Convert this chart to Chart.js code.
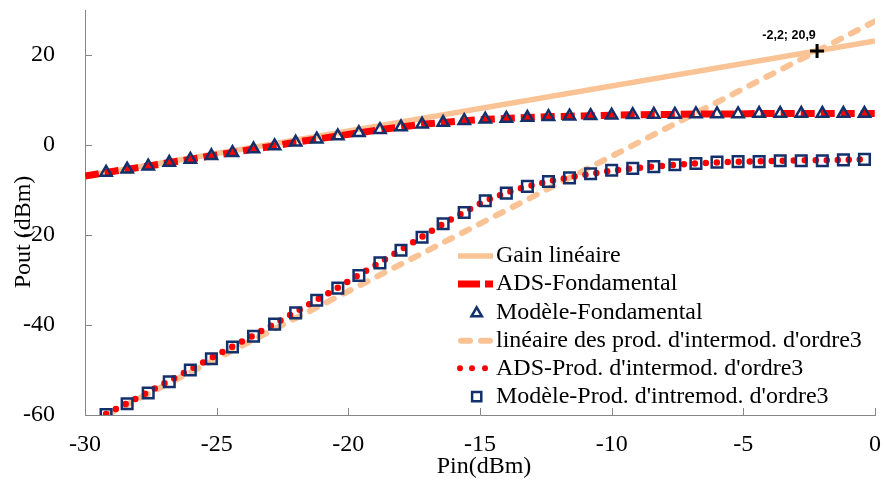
<!DOCTYPE html>
<html><head><meta charset="utf-8">
<script src="https://cdn.jsdelivr.net/npm/chart.js@4.4.1/dist/chart.umd.min.js"></script>
<style>html,body{margin:0;padding:0;background:#fff;}#wrap{width:885px;height:481px;}</style>
</head><body><div id="wrap"><canvas id="c" width="885" height="481"></canvas></div>
<script>
// ---- data ----
const pin = [-29.2,-28.4,-27.6,-26.8,-26,-25.2,-24.4,-23.6,-22.8,-22,-21.2,-20.4,-19.6,-18.8,-18,-17.2,-16.4,-15.6,-14.8,-14,-13.2,-12.4,-11.6,-10.8,-10,-9.2,-8.4,-7.6,-6.8,-6,-5.2,-4.4,-3.6,-2.8,-2,-1.2,-0.4];
const modeleFond = [-6.1,-5.4,-4.7,-3.9,-3.2,-2.4,-1.7,-0.9,-0.2,0.6,1.3,2.0,2.7,3.4,4.0,4.6,5.0,5.4,5.7,5.9,6.1,6.3,6.4,6.5,6.6,6.7,6.8,6.8,6.9,6.9,6.9,7.0,7.0,7.0,7.0,7.0,7.0];
const modeleIM3 = [-59.9,-57.5,-55.1,-52.6,-50.0,-47.5,-44.9,-42.5,-39.8,-37.3,-34.5,-31.8,-29.0,-26.2,-23.4,-20.5,-17.5,-15.0,-12.4,-10.7,-9.2,-8.1,-7.3,-6.4,-5.6,-5.2,-4.8,-4.4,-4.1,-3.8,-3.7,-3.7,-3.5,-3.5,-3.5,-3.3,-3.2];
const adsFondPin = [-30,-29.2,-28.4,-27.6,-26.8,-26,-25.2,-24.4,-23.6,-22.8,-22,-21.2,-20.4,-19.6,-18.8,-18,-17.2,-16.4,-15.6,-14.8,-14,-13.2,-12.4,-11.6,-10.8,-10,-9.2,-8.4,-7.6,-6.8,-6,-5.2,-4.4,-3.6,-2.8,-2,-1.2,-0.4,0];
const adsFond = [-6.9,-6.1,-5.4,-4.7,-3.9,-3.2,-2.4,-1.7,-0.9,-0.2,0.6,1.3,2.0,2.7,3.4,4.0,4.6,5.0,5.4,5.7,5.9,6.1,6.3,6.4,6.5,6.6,6.7,6.8,6.8,6.9,6.9,6.9,7.0,7.0,7.0,7.0,7.0,7.0,7.0];
const adsIM3 = [-59.8,-57.4,-54.9,-52.4,-49.9,-47.3,-44.8,-42.3,-39.7,-37.1,-34.4,-31.7,-28.9,-26.1,-23.3,-20.4,-17.5,-14.9,-12.4,-10.6,-9.2,-8.1,-7.2,-6.4,-5.7,-5.2,-4.8,-4.4,-4.1,-3.9,-3.7,-3.6,-3.5,-3.4,-3.4,-3.3,-3.2];
const gainLinPin = [-30, 0];
const gainLin = [-6.9, 23.1];
const im3LinPin = [-29.17, 0];
const im3Lin = [-60, 27.5];
const ip3Pin = [-2.2];
const ip3Pout = [20.9];
const ip3Label = "-2,2; 20,9";
const xTicks = [-30,-25,-20,-15,-10,-5,0];
const yTicks = [-60,-40,-20,0,20];
const legendLabels = ["Gain linéaire","ADS-Fondamental","Modèle-Fondamental","linéaire des prod. d'intermod. d'ordre3","ADS-Prod. d'intermod. d'ordre3","Modèle-Prod. d'intremod. d'ordre3"];
const xTitle = "Pin(dBm)";
const yTitle = "Pout (dBm)";

// ---- styles ----
const NAVY = '#13306B', RED = '#FF0000', PEACH = '#F9C396', AXIS = '#868686';
const SERIF = "'Liberation Serif','Times New Roman',serif";
const pts = (xs, ys) => xs.map((x, i) => ({x, y: ys[i]}));
const CLEAR = 'rgba(0,0,0,0)';

const decor = {
  id: 'decor',
  beforeDatasetsDraw(chart) {
    const ctx = chart.ctx, xs = chart.scales.x, ys = chart.scales.y, ca = chart.chartArea;
    ctx.save();
    ctx.strokeStyle = AXIS; ctx.lineWidth = 1;
    yTicks.forEach(v => { const p = Math.round(ys.getPixelForValue(v)) + 0.5; ctx.beginPath(); ctx.moveTo(ca.left, p); ctx.lineTo(ca.left + 7, p); ctx.stroke(); });
    xTicks.forEach(v => { const p = Math.round(xs.getPixelForValue(v)) + 0.5; ctx.beginPath(); ctx.moveTo(p, ca.bottom); ctx.lineTo(p, ca.bottom - 7); ctx.stroke(); });
    ctx.restore();
  },
  afterDraw(chart) {
    const ctx = chart.ctx, xs = chart.scales.x, ys = chart.scales.y;
    ctx.save();
    ctx.fillStyle = '#000';
    ctx.font = '24px ' + SERIF;
    ctx.textAlign = 'center'; ctx.textBaseline = 'middle';
    ctx.fillText(xTitle, 484, 467);
    ctx.save();
    ctx.translate(30, 232); ctx.rotate(-Math.PI / 2);
    ctx.textBaseline = 'alphabetic';
    ctx.fillText(yTitle, 0, 0);
    ctx.restore();
    // IP3 label
    const px = xs.getPixelForValue(ip3Pin[0]), py = ys.getPixelForValue(ip3Pout[0]);
    ctx.font = 'bold 12.5px "Liberation Sans", Arial, sans-serif';
    ctx.textAlign = 'center'; ctx.textBaseline = 'middle';
    ctx.fillText(ip3Label, px - 28, py - 15);
    // legend
    const rows = [256, 284, 312.3, 340.7, 368.3, 396.7];
    const x0 = 458, x1 = 493, tx = 496;
    ctx.font = '24px ' + SERIF; ctx.textAlign = 'left'; ctx.textBaseline = 'middle';
    rows.forEach((y, i) => { ctx.fillStyle = '#000'; ctx.fillText(legendLabels[i], tx, y); });
    ctx.lineCap = 'butt';
    ctx.strokeStyle = PEACH; ctx.lineWidth = 5.5; ctx.setLineDash([]);
    ctx.beginPath(); ctx.moveTo(x0, rows[0]); ctx.lineTo(x1, rows[0]); ctx.stroke();
    ctx.strokeStyle = RED; ctx.lineWidth = 7; ctx.setLineDash([22, 5]);
    ctx.beginPath(); ctx.moveTo(x0, rows[1]); ctx.lineTo(x1, rows[1]); ctx.stroke();
    ctx.setLineDash([]);
    ctx.strokeStyle = NAVY; ctx.fillStyle = CLEAR; ctx.lineWidth = 2.5; ctx.lineJoin = 'miter';
    Chart.helpers.drawPoint(ctx, {pointStyle: 'triangle', radius: 6, rotation: 0, borderWidth: 2.5}, 476.7, rows[2] + 1);
    ctx.strokeStyle = PEACH; ctx.lineWidth = 6; ctx.lineCap = 'round'; ctx.setLineDash([9, 11]);
    ctx.beginPath(); ctx.moveTo(x0 + 3, rows[3]); ctx.lineTo(x1 - 3, rows[3]); ctx.stroke();
    ctx.setLineDash([]);
    ctx.fillStyle = RED;
    [460, 472, 485].forEach(cx => { ctx.beginPath(); ctx.arc(cx, rows[4], 3, 0, Math.PI * 2); ctx.fill(); });
    ctx.strokeStyle = NAVY; ctx.fillStyle = CLEAR; ctx.lineCap = 'butt'; ctx.lineWidth = 2.5;
    Chart.helpers.drawPoint(ctx, {pointStyle: 'rect', radius: 6.5, rotation: 0, borderWidth: 2.5}, 476.7, rows[5]);
    ctx.restore();
  }
};

function fixPad(s) { s.paddingTop = 0; s.paddingBottom = 0; s.paddingLeft = 0; s.paddingRight = 0; }

new Chart(document.getElementById('c'), {
  type: 'scatter',
  data: {
    datasets: [
      {label: 'IP3', data: pts(ip3Pin, ip3Pout), pointStyle: 'cross', pointRadius: 7, pointBorderWidth: 3, pointBorderColor: '#000', pointBackgroundColor: '#000', borderColor: '#000', backgroundColor: '#000', showLine: false},
      {label: legendLabels[2], data: pts(pin, modeleFond), pointStyle: 'triangle', pointRadius: 6.5, pointBorderWidth: 2.5, pointBorderColor: NAVY, pointBackgroundColor: CLEAR, borderColor: NAVY, backgroundColor: CLEAR, showLine: false},
      {label: legendLabels[5], data: pts(pin, modeleIM3), pointStyle: 'rect', pointRadius: 7.5, pointBorderWidth: 2.5, pointBorderColor: NAVY, pointBackgroundColor: CLEAR, borderColor: NAVY, backgroundColor: CLEAR, showLine: false},
      {label: legendLabels[1], data: pts(adsFondPin, adsFond), showLine: true, pointRadius: 0, borderColor: RED, borderWidth: 7, borderDash: [14, 6], borderCapStyle: 'butt', fill: false, tension: 0},
      {label: legendLabels[4], data: pts(pin, adsIM3), showLine: true, pointRadius: 0, borderColor: RED, borderWidth: 6.5, borderDash: [0, 11], borderCapStyle: 'round', fill: false, tension: 0},
      {label: legendLabels[0], data: pts(gainLinPin, gainLin), showLine: true, pointRadius: 0, borderColor: PEACH, borderWidth: 5.5, fill: false, tension: 0},
      {label: legendLabels[3], data: pts(im3LinPin, im3Lin), showLine: true, pointRadius: 0, borderColor: PEACH, borderWidth: 6, borderDash: [8, 11], borderCapStyle: 'round', fill: false, tension: 0}
    ]
  },
  options: {
    responsive: false, animation: false, devicePixelRatio: 1, events: [],
    layout: {padding: {top: 10, right: 8, left: 0, bottom: 0}},
    plugins: {legend: {display: false}, tooltip: {enabled: false}},
    scales: {
      x: {
        type: 'linear', min: -30, max: 0,
        afterFit(s) { s.height = 66; fixPad(s); },
        afterBuildTicks(s) { s.ticks = xTicks.map(v => ({value: v})); },
        grid: {display: false},
        border: {display: true, color: AXIS, width: 1},
        ticks: {color: '#000', font: {family: SERIF, size: 24}, padding: 7, autoSkip: false, maxRotation: 0}
      },
      y: {
        type: 'linear', min: -60, max: 30,
        afterFit(s) { s.width = 85; fixPad(s); },
        afterBuildTicks(s) { s.ticks = yTicks.map(v => ({value: v})); },
        grid: {display: false},
        border: {display: true, color: AXIS, width: 1},
        ticks: {color: '#000', font: {family: SERIF, size: 24}, padding: 22, autoSkip: false}
      }
    }
  },
  plugins: [decor]
});
</script></body></html>
